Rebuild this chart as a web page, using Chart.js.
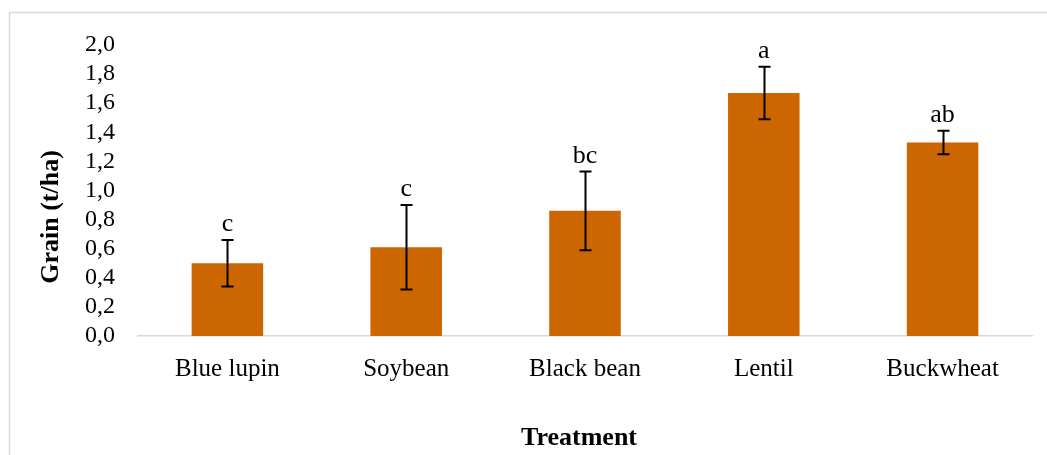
<!DOCTYPE html>
<html>
<head>
<meta charset="utf-8">
<script src="https://cdn.jsdelivr.net/npm/chart.js@4/dist/chart.umd.min.js"></script>
<style>
    html, body { margin: 0; padding: 0; background: #fff; }
    #wrap { width: 1047px; height: 455px; }
</style>
</head>
<body>
<div id="wrap"><canvas id="grainChart"></canvas></div>
<script>
// Chart data
const treatments = ['Blue lupin', 'Soybean', 'Black bean', 'Lentil', 'Buckwheat'];
const grainYield = [0.50, 0.61, 0.86, 1.67, 1.33];
const yieldError = [0.16, 0.29, 0.27, 0.18, 0.08];
const groupLetters = ['c', 'c', 'bc', 'a', 'ab'];
const yTicks = [0, 0.2, 0.4, 0.6, 0.8, 1.0, 1.2, 1.4, 1.6, 1.8, 2.0];

const serif = "'Liberation Serif', 'Times New Roman', serif";

// Frame, error bars, letters and axis titles
const extrasPlugin = {
    id: 'extras',
    beforeDraw(chart) {
        const ctx = chart.ctx;
        ctx.save();
        ctx.strokeStyle = '#d9d9d9';
        ctx.lineWidth = 1.5;
        ctx.beginPath();
        ctx.moveTo(9.5, chart.height + 2);
        ctx.lineTo(9.5, 12.5);
        ctx.lineTo(chart.width + 2, 12.5);
        ctx.stroke();
        ctx.restore();
    },
    afterDatasetsDraw(chart) {
        const ctx = chart.ctx;
        const y = chart.scales.y;
        const bars = chart.getDatasetMeta(0).data;
        ctx.save();
        ctx.strokeStyle = '#000';
        ctx.lineWidth = 2;
        bars.forEach((bar, i) => {
            const top = y.getPixelForValue(grainYield[i] + yieldError[i]);
            const bottom = y.getPixelForValue(grainYield[i] - yieldError[i]);
            const x = Math.round(bar.x) + 0.5;
            ctx.beginPath();
            ctx.moveTo(x, top);
            ctx.lineTo(x, bottom);
            ctx.moveTo(x - 6, top);
            ctx.lineTo(x + 6, top);
            ctx.moveTo(x - 6, bottom);
            ctx.lineTo(x + 6, bottom);
            ctx.stroke();

            ctx.fillStyle = '#000';
            ctx.font = '26px ' + serif;
            ctx.textAlign = 'center';
            ctx.textBaseline = 'alphabetic';
            ctx.fillText(groupLetters[i], bar.x, top - 9);
        });

        // axis titles
        const area = chart.chartArea;
        ctx.font = 'bold 26px ' + serif;
        ctx.textAlign = 'center';
        ctx.textBaseline = 'middle';
        ctx.fillText('Treatment', (area.left + area.right) / 2 - 6, 438);

        ctx.translate(51, 217);
        ctx.rotate(-Math.PI / 2);
        ctx.fillText('Grain (t/ha)', 0, 0);
        ctx.restore();
    }
};

const ctx = document.getElementById('grainChart').getContext('2d');
new Chart(ctx, {
    type: 'bar',
    data: {
        labels: treatments,
        datasets: [{
            label: 'Grain',
            data: grainYield,
            backgroundColor: '#cc6600',
            borderWidth: 0,
            categoryPercentage: 1,
            barPercentage: 0.4
        }]
    },
    options: {
        responsive: true,
        maintainAspectRatio: false,
        animation: false,
        layout: {
            padding: { left: 0, right: 15, top: 45, bottom: 0 }
        },
        scales: {
            x: {
                grid: { display: false },
                border: { color: '#d9d9d9', width: 1.5 },
                ticks: {
                    color: '#000',
                    font: { family: serif, size: 25 },
                    padding: 10
                },
                afterFit(scale) { scale.height = 119; }
            },
            y: {
                min: 0,
                max: 2,
                grid: { display: false, drawTicks: false },
                border: { display: false },
                afterBuildTicks(scale) {
                    scale.ticks = yTicks.map(v => ({ value: v }));
                },
                ticks: {
                    color: '#000',
                    autoSkip: false,
                    font: { family: serif, size: 24 },
                    padding: 23,
                    callback: v => v.toFixed(1).replace('.', ',')
                },
                afterFit(scale) { scale.width = 138; }
            }
        },
        plugins: {
            legend: { display: false },
            tooltip: { enabled: false }
        }
    },
    plugins: [extrasPlugin]
});
</script>
</body>
</html>
